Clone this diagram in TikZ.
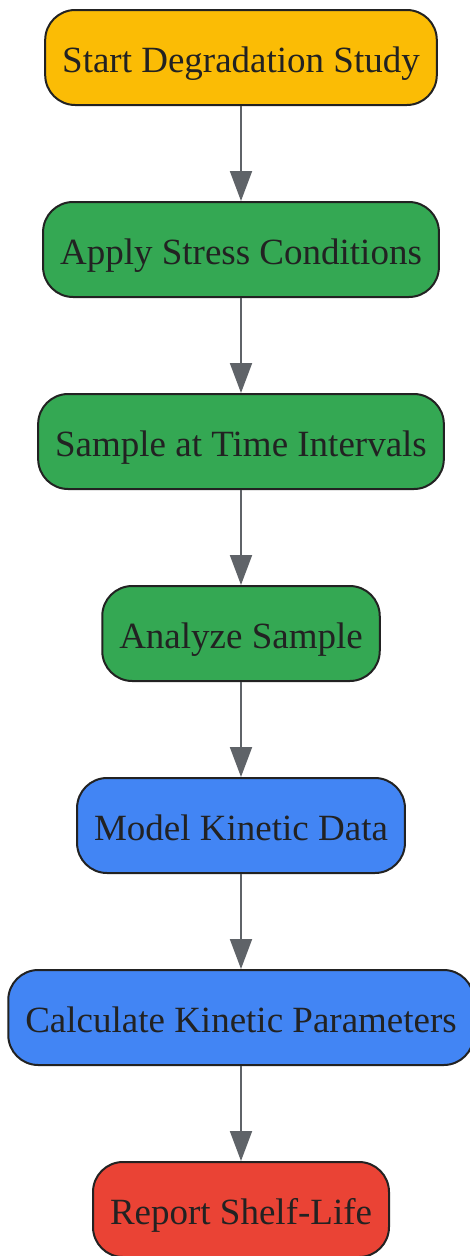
\documentclass[tikz,border=0pt]{standalone}
\usepackage{fontspec}
\setmainfont{Liberation Serif}
\usetikzlibrary{positioning,arrows.meta}

\definecolor{startyellow}{HTML}{FBBC05}
\definecolor{labgreen}{HTML}{34A853}
\definecolor{modelblue}{HTML}{4285F4}
\definecolor{reportred}{HTML}{EA4335}
\definecolor{edgedark}{HTML}{222222}
\definecolor{flowgray}{HTML}{5F6368}

\begin{document}
\begin{tikzpicture}[x=1pt,y=1pt,
    stepbox/.style={draw=edgedark,line width=2pt,rounded corners=30pt,
      minimum height=95pt,inner xsep=17pt,text height=33pt,text depth=4pt,
      text=edgedark,font=\fontsize{37}{44}\selectfont},
    flow/.style={draw=flowgray,line width=2pt,-{Triangle[length=30pt,width=22pt]}}]
  \useasboundingbox (0,0) rectangle (470,-1256);
  \node[stepbox,fill=startyellow] (start) at (241,-57.5) {Start Degradation Study};
  \node[stepbox,fill=labgreen,below=95pt of start] (stress) {Apply Stress Conditions};
  \node[stepbox,fill=labgreen,below=95pt of stress] (sample) {Sample at Time Intervals};
  \node[stepbox,fill=labgreen,below=95pt of sample] (analyze) {Analyze Sample};
  \node[stepbox,fill=modelblue,below=95pt of analyze] (model) {Model Kinetic Data};
  \node[stepbox,fill=modelblue,below=95pt of model] (calc) {Calculate Kinetic Parameters};
  \node[stepbox,fill=reportred,below=95pt of calc] (report) {Report Shelf-Life};
  \foreach \a/\b in {start/stress,stress/sample,sample/analyze,analyze/model,model/calc,calc/report}{
    \draw[flow] (\a) -- (\b);
  }
\end{tikzpicture}
\end{document}
